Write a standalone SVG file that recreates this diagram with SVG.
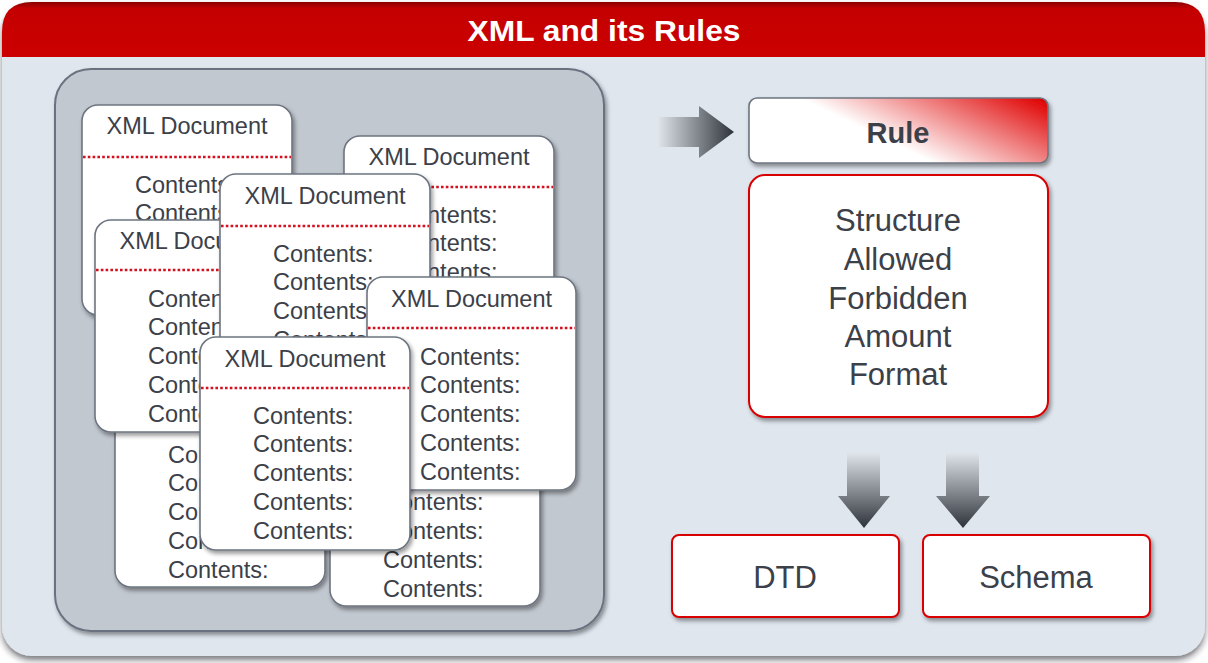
<svg xmlns="http://www.w3.org/2000/svg" width="1208" height="663" viewBox="0 0 1208 663">
<defs>
<filter id="sh" x="-10%" y="-10%" width="125%" height="130%">
<feDropShadow dx="2" dy="3" stdDeviation="2.2" flood-color="#000" flood-opacity="0.4"/>
</filter>
<filter id="shBig" x="-5%" y="-5%" width="110%" height="112%">
<feDropShadow dx="0" dy="4" stdDeviation="3" flood-color="#1a1f26" flood-opacity="0.6"/>
</filter>
<linearGradient id="hdr" x1="0" y1="0" x2="0" y2="1">
<stop offset="0" stop-color="#8a0000"/>
<stop offset="0.12" stop-color="#c40000"/>
<stop offset="1" stop-color="#cc0000"/>
</linearGradient>
<linearGradient id="ruleGrad" gradientUnits="userSpaceOnUse" x1="800" y1="98" x2="846" y2="3">
<stop offset="0" stop-color="#ffffff"/>
<stop offset="1" stop-color="#e00000"/>
</linearGradient>
<linearGradient id="arrowH" x1="0" y1="0" x2="1" y2="0">
<stop offset="0" stop-color="#e2e7ed"/>
<stop offset="1" stop-color="#2e333b"/>
</linearGradient>
<linearGradient id="arrowV" x1="0" y1="0" x2="0" y2="1">
<stop offset="0" stop-color="#e2e7ed"/>
<stop offset="1" stop-color="#2e333b"/>
</linearGradient>
</defs>
<style>
.doc{fill:#ffffff;stroke:#6e7580;stroke-width:1.6;filter:url(#sh)}
.dots{stroke:#d2101e;stroke-width:2.6;stroke-dasharray:2.6 2.2}
.dt{font-family:"Liberation Sans",Arial,sans-serif;font-size:23.5px;fill:#3b4049;text-anchor:middle}
.ct{font-family:"Liberation Sans",Arial,sans-serif;font-size:23.5px;fill:#3b4049}
.redbox{fill:#ffffff;stroke:#d80000;stroke-width:2;filter:url(#sh)}
.big{font-family:"Liberation Sans",Arial,sans-serif;font-size:31px;fill:#3b4049;text-anchor:middle}
</style>

<g id="frame">
<rect x="2" y="2" width="1203" height="654" rx="30" fill="#dfe6ee" filter="url(#shBig)"/>
<path d="M2,57 L2,32 Q2,2 32,2 L1175,2 Q1205,2 1205,32 L1205,57 Z" fill="url(#hdr)"/>
<text x="604" y="41" font-family="'Liberation Sans',Arial,sans-serif" font-weight="bold" font-size="30" fill="#ffffff" text-anchor="middle" textLength="273" lengthAdjust="spacingAndGlyphs">XML and its Rules</text>
</g>

<g id="container">
<rect x="55" y="69" width="549" height="562" rx="36" fill="#c2c8d0" stroke="#6b7280" stroke-width="2" filter="url(#sh)"/>
</g>

<g id="docA" transform="translate(82,105)">
<rect class="doc" width="210" height="210" rx="16"/>
<line class="dots" x1="1" y1="52" x2="209" y2="52"/>
<text class="dt" x="105" y="29">XML Document</text>
<text class="ct" x="53" y="87.5">Contents:</text>
<text class="ct" x="53" y="116.3">Contents:</text>
</g>

<g id="docB" transform="translate(115,375)">
<rect class="doc" width="210" height="212" rx="16"/>
<text class="ct" x="53" y="87.5">Contents:</text>
<text class="ct" x="53" y="116.3">Contents:</text>
<text class="ct" x="53" y="145.1">Contents:</text>
<text class="ct" x="53" y="173.9">Contents:</text>
<text class="ct" x="53" y="202.7">Contents:</text>
</g>

<g id="docC" transform="translate(330,394)">
<rect class="doc" width="210" height="212" rx="16"/>
<text class="ct" x="53" y="116.3">Contents:</text>
<text class="ct" x="53" y="145.1">Contents:</text>
<text class="ct" x="53" y="173.9">Contents:</text>
<text class="ct" x="53" y="202.7">Contents:</text>
</g>

<g id="docD" transform="translate(344,136)">
<rect class="doc" width="210" height="212" rx="16"/>
<line class="dots" x1="1" y1="51" x2="209" y2="51"/>
<text class="dt" x="105" y="29">XML Document</text>
<text class="ct" x="53" y="86.5">Contents:</text>
<text class="ct" x="53" y="115.3">Contents:</text>
<text class="ct" x="53" y="144.1">Contents:</text>
</g>

<g id="docE" transform="translate(95,220)">
<rect class="doc" width="210" height="212" rx="16"/>
<line class="dots" x1="1" y1="50" x2="209" y2="50"/>
<text class="dt" x="105" y="28.5">XML Document</text>
<text class="ct" x="53" y="86.5">Contents:</text>
<text class="ct" x="53" y="115.3">Contents:</text>
<text class="ct" x="53" y="144.1">Contents:</text>
<text class="ct" x="53" y="172.9">Contents:</text>
<text class="ct" x="53" y="201.7">Contents:</text>
</g>

<g id="docF" transform="translate(220,174)">
<rect class="doc" width="210" height="212" rx="16"/>
<line class="dots" x1="1" y1="52" x2="209" y2="52"/>
<text class="dt" x="105" y="29.5">XML Document</text>
<text class="ct" x="53" y="87.5">Contents:</text>
<text class="ct" x="53" y="116.3">Contents:</text>
<text class="ct" x="53" y="145.1">Contents:</text>
<text class="ct" x="53" y="173.9">Contents:</text>
</g>

<g id="docG" transform="translate(367,277)">
<rect class="doc" width="209" height="213" rx="16"/>
<line class="dots" x1="1" y1="51" x2="208" y2="51"/>
<text class="dt" x="104.5" y="30">XML Document</text>
<text class="ct" x="53" y="87.5">Contents:</text>
<text class="ct" x="53" y="116.3">Contents:</text>
<text class="ct" x="53" y="145.1">Contents:</text>
<text class="ct" x="53" y="173.9">Contents:</text>
<text class="ct" x="53" y="202.7">Contents:</text>
</g>

<g id="docH" transform="translate(200,337)">
<rect class="doc" width="210" height="213" rx="16"/>
<line class="dots" x1="1" y1="51" x2="209" y2="51"/>
<text class="dt" x="105" y="29.5">XML Document</text>
<text class="ct" x="53" y="86.5">Contents:</text>
<text class="ct" x="53" y="115.3">Contents:</text>
<text class="ct" x="53" y="144.1">Contents:</text>
<text class="ct" x="53" y="172.9">Contents:</text>
<text class="ct" x="53" y="201.7">Contents:</text>
</g>

<g id="connectors">
<path d="M657,117 L699,117 L699,106 L734,132 L699,158 L699,147 L657,147 Z" fill="url(#arrowH)"/>
<path d="M847,452 L880,452 L880,496 L890,496 L864,528 L838,496 L847,496 Z" fill="url(#arrowV)"/>
<path d="M946,452 L979,452 L979,496 L990,496 L963,528 L936,496 L946,496 Z" fill="url(#arrowV)"/>
</g>

<g id="rule">
<rect x="749" y="98" width="299" height="65" rx="8" fill="url(#ruleGrad)" stroke="#6e7580" stroke-width="1.6" filter="url(#sh)"/>
<text x="898" y="143" font-family="'Liberation Sans',Arial,sans-serif" font-weight="bold" font-size="29" fill="#3b4049" text-anchor="middle">Rule</text>
</g>

<g id="ruleList">
<rect class="redbox" x="749" y="175" width="299" height="242" rx="16"/>
<text class="big" x="898" y="231">Structure</text>
<text class="big" x="898" y="270">Allowed</text>
<text class="big" x="898" y="309">Forbidden</text>
<text class="big" x="898" y="347">Amount</text>
<text class="big" x="898" y="385">Format</text>
</g>

<g id="dtd">
<rect class="redbox" x="672" y="535" width="227" height="82" rx="7"/>
<text class="big" x="785" y="588">DTD</text>
</g>

<g id="schema">
<rect class="redbox" x="923" y="535" width="227" height="82" rx="7"/>
<text class="big" x="1036" y="588">Schema</text>
</g>
</svg>
